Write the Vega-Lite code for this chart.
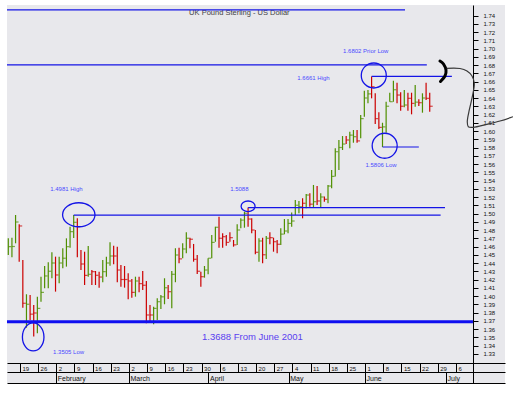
{
  "$schema": "https://vega.github.io/schema/vega-lite/v6.json",
  "width": 498,
  "height": 378,
  "autosize": {"type": "none"},
  "padding": {"left": 7, "top": 5, "right": 8, "bottom": 12},
  "background": "white",
  "config": {"view": {"fill": "#e8e8ec", "stroke": null}, "font": "Liberation Sans"},
  "datasets": {
    "bars": [
      {"t":0,"dir":"up","hi":1.4699,"lo":1.4497,"c":1.4598},
      {"t":1,"dir":"up","hi":1.4707,"lo":1.4469,"c":1.4600},
      {"t":2,"dir":"up","hi":1.4982,"lo":1.4639,"c":1.4897},
      {"t":3,"dir":"down","hi":1.4870,"lo":1.4416,"c":1.4849},
      {"t":4,"dir":"down","hi":1.4436,"lo":1.3858,"c":1.3912},
      {"t":5,"dir":"up","hi":1.4021,"lo":1.3616,"c":1.3900},
      {"t":6,"dir":"down","hi":1.4012,"lo":1.3709,"c":1.3780},
      {"t":7,"dir":"down","hi":1.3891,"lo":1.3508,"c":1.3794},
      {"t":8,"dir":"up","hi":1.3992,"lo":1.3548,"c":1.3850},
      {"t":9,"dir":"up","hi":1.4234,"lo":1.3931,"c":1.4044},
      {"t":10,"dir":"up","hi":1.4364,"lo":1.4094,"c":1.4243},
      {"t":11,"dir":"up","hi":1.4409,"lo":1.4094,"c":1.4300},
      {"t":12,"dir":"up","hi":1.4530,"lo":1.4215,"c":1.4400},
      {"t":13,"dir":"down","hi":1.4477,"lo":1.4053,"c":1.4255},
      {"t":14,"dir":"up","hi":1.4477,"lo":1.4155,"c":1.4400},
      {"t":15,"dir":"up","hi":1.4579,"lo":1.4337,"c":1.4458},
      {"t":16,"dir":"up","hi":1.4699,"lo":1.4356,"c":1.4598},
      {"t":17,"dir":"up","hi":1.4840,"lo":1.4585,"c":1.4780},
      {"t":18,"dir":"up","hi":1.4981,"lo":1.4703,"c":1.4893},
      {"t":19,"dir":"down","hi":1.4942,"lo":1.4469,"c":1.4840},
      {"t":20,"dir":"down","hi":1.4558,"lo":1.4315,"c":1.4388},
      {"t":21,"dir":"down","hi":1.4537,"lo":1.4133,"c":1.4250},
      {"t":22,"dir":"up","hi":1.4606,"lo":1.4234,"c":1.4263},
      {"t":23,"dir":"down","hi":1.4315,"lo":1.4133,"c":1.4295},
      {"t":24,"dir":"down","hi":1.4303,"lo":1.4133,"c":1.4251},
      {"t":25,"dir":"down","hi":1.4295,"lo":1.4101,"c":1.4230},
      {"t":26,"dir":"up","hi":1.4436,"lo":1.4167,"c":1.4295},
      {"t":27,"dir":"up","hi":1.4477,"lo":1.4234,"c":1.4400},
      {"t":28,"dir":"up","hi":1.4651,"lo":1.4368,"c":1.4485},
      {"t":29,"dir":"down","hi":1.4610,"lo":1.4385,"c":1.4485},
      {"t":30,"dir":"down","hi":1.4598,"lo":1.4167,"c":1.4315},
      {"t":31,"dir":"down","hi":1.4376,"lo":1.4113,"c":1.4200},
      {"t":32,"dir":"down","hi":1.4364,"lo":1.4101,"c":1.4200},
      {"t":33,"dir":"down","hi":1.4276,"lo":1.3960,"c":1.4182},
      {"t":34,"dir":"down","hi":1.4206,"lo":1.3979,"c":1.4044},
      {"t":35,"dir":"up","hi":1.4234,"lo":1.3992,"c":1.4182},
      {"t":36,"dir":"down","hi":1.4234,"lo":1.4044,"c":1.4150},
      {"t":37,"dir":"down","hi":1.4303,"lo":1.4073,"c":1.4130},
      {"t":38,"dir":"down","hi":1.4182,"lo":1.3670,"c":1.3770},
      {"t":39,"dir":"down","hi":1.3891,"lo":1.3690,"c":1.3770},
      {"t":40,"dir":"up","hi":1.3871,"lo":1.3658,"c":1.3850},
      {"t":41,"dir":"up","hi":1.3972,"lo":1.3709,"c":1.3931},
      {"t":42,"dir":"up","hi":1.4012,"lo":1.3842,"c":1.3990},
      {"t":43,"dir":"up","hi":1.4215,"lo":1.3900,"c":1.4100},
      {"t":44,"dir":"down","hi":1.4133,"lo":1.3964,"c":1.4052},
      {"t":45,"dir":"up","hi":1.4303,"lo":1.3852,"c":1.4263},
      {"t":46,"dir":"up","hi":1.4579,"lo":1.4167,"c":1.4497},
      {"t":47,"dir":"down","hi":1.4586,"lo":1.4397,"c":1.4450},
      {"t":48,"dir":"up","hi":1.4639,"lo":1.4458,"c":1.4570},
      {"t":49,"dir":"up","hi":1.4773,"lo":1.4518,"c":1.4700},
      {"t":50,"dir":"down","hi":1.4707,"lo":1.4579,"c":1.4688},
      {"t":51,"dir":"down","hi":1.4631,"lo":1.4416,"c":1.4445},
      {"t":52,"dir":"down","hi":1.4497,"lo":1.4267,"c":1.4300},
      {"t":53,"dir":"down","hi":1.4295,"lo":1.4113,"c":1.4234},
      {"t":54,"dir":"up","hi":1.4364,"lo":1.4222,"c":1.4315},
      {"t":55,"dir":"up","hi":1.4458,"lo":1.4263,"c":1.4458},
      {"t":56,"dir":"up","hi":1.4739,"lo":1.4458,"c":1.4650},
      {"t":57,"dir":"up","hi":1.4840,"lo":1.4658,"c":1.4833},
      {"t":58,"dir":"down","hi":1.4961,"lo":1.4585,"c":1.4700},
      {"t":59,"dir":"down","hi":1.4760,"lo":1.4585,"c":1.4719},
      {"t":60,"dir":"down","hi":1.4739,"lo":1.4610,"c":1.4650},
      {"t":61,"dir":"down","hi":1.4773,"lo":1.4658,"c":1.4707},
      {"t":62,"dir":"down","hi":1.4679,"lo":1.4598,"c":1.4620},
      {"t":63,"dir":"up","hi":1.4870,"lo":1.4618,"c":1.4800},
      {"t":64,"dir":"up","hi":1.4942,"lo":1.4821,"c":1.4920},
      {"t":65,"dir":"up","hi":1.5022,"lo":1.4828,"c":1.5003},
      {"t":66,"dir":"down","hi":1.5072,"lo":1.4840,"c":1.4933},
      {"t":67,"dir":"down","hi":1.4942,"lo":1.4760,"c":1.4800},
      {"t":68,"dir":"down","hi":1.4800,"lo":1.4506,"c":1.4530},
      {"t":69,"dir":"up","hi":1.4699,"lo":1.4416,"c":1.4667},
      {"t":70,"dir":"down","hi":1.4707,"lo":1.4397,"c":1.4500},
      {"t":71,"dir":"up","hi":1.4727,"lo":1.4449,"c":1.4700},
      {"t":72,"dir":"down","hi":1.4773,"lo":1.4627,"c":1.4707},
      {"t":73,"dir":"down","hi":1.4707,"lo":1.4537,"c":1.4658},
      {"t":74,"dir":"down","hi":1.4679,"lo":1.4518,"c":1.4627},
      {"t":75,"dir":"up","hi":1.4821,"lo":1.4618,"c":1.4750},
      {"t":76,"dir":"up","hi":1.4933,"lo":1.4748,"c":1.4788},
      {"t":77,"dir":"up","hi":1.4933,"lo":1.4760,"c":1.4880},
      {"t":78,"dir":"up","hi":1.5012,"lo":1.4840,"c":1.4909},
      {"t":79,"dir":"up","hi":1.5164,"lo":1.4982,"c":1.5100},
      {"t":80,"dir":"up","hi":1.5152,"lo":1.5003,"c":1.5082},
      {"t":81,"dir":"down","hi":1.5185,"lo":1.4942,"c":1.5124},
      {"t":82,"dir":"up","hi":1.5237,"lo":1.5063,"c":1.5224},
      {"t":83,"dir":"down","hi":1.5246,"lo":1.5082,"c":1.5113},
      {"t":84,"dir":"up","hi":1.5346,"lo":1.5075,"c":1.5143},
      {"t":85,"dir":"down","hi":1.5333,"lo":1.5103,"c":1.5152},
      {"t":86,"dir":"up","hi":1.5246,"lo":1.5075,"c":1.5200},
      {"t":87,"dir":"down","hi":1.5206,"lo":1.5143,"c":1.5172},
      {"t":88,"dir":"up","hi":1.5346,"lo":1.5124,"c":1.5333},
      {"t":89,"dir":"up","hi":1.5527,"lo":1.5306,"c":1.5450},
      {"t":90,"dir":"up","hi":1.5791,"lo":1.5448,"c":1.5749},
      {"t":91,"dir":"up","hi":1.5891,"lo":1.5527,"c":1.5800},
      {"t":92,"dir":"up","hi":1.5939,"lo":1.5770,"c":1.5842},
      {"t":93,"dir":"down","hi":1.5939,"lo":1.5842,"c":1.5891},
      {"t":94,"dir":"up","hi":1.5991,"lo":1.5791,"c":1.5950},
      {"t":95,"dir":"up","hi":1.6012,"lo":1.5858,"c":1.5931},
      {"t":96,"dir":"down","hi":1.6012,"lo":1.5858,"c":1.5880},
      {"t":97,"dir":"up","hi":1.6194,"lo":1.5912,"c":1.6150},
      {"t":98,"dir":"up","hi":1.6488,"lo":1.6173,"c":1.6400},
      {"t":99,"dir":"up","hi":1.6497,"lo":1.6336,"c":1.6450},
      {"t":100,"dir":"down","hi":1.6661,"lo":1.6396,"c":1.6537},
      {"t":101,"dir":"down","hi":1.6457,"lo":1.6085,"c":1.6150},
      {"t":102,"dir":"down","hi":1.6227,"lo":1.6024,"c":1.6044},
      {"t":103,"dir":"up","hi":1.6100,"lo":1.5806,"c":1.6050},
      {"t":104,"dir":"up","hi":1.6355,"lo":1.5979,"c":1.6300},
      {"t":105,"dir":"up","hi":1.6464,"lo":1.6355,"c":1.6355},
      {"t":106,"dir":"up","hi":1.6609,"lo":1.6355,"c":1.6500},
      {"t":107,"dir":"down","hi":1.6585,"lo":1.6336,"c":1.6436},
      {"t":108,"dir":"down","hi":1.6469,"lo":1.6246,"c":1.6300},
      {"t":109,"dir":"up","hi":1.6497,"lo":1.6287,"c":1.6315},
      {"t":110,"dir":"down","hi":1.6464,"lo":1.6246,"c":1.6396},
      {"t":111,"dir":"down","hi":1.6464,"lo":1.6202,"c":1.6335},
      {"t":112,"dir":"up","hi":1.6558,"lo":1.6295,"c":1.6350},
      {"t":113,"dir":"down","hi":1.6384,"lo":1.6303,"c":1.6343},
      {"t":114,"dir":"up","hi":1.6457,"lo":1.6222,"c":1.6400},
      {"t":115,"dir":"down","hi":1.6585,"lo":1.6376,"c":1.6396},
      {"t":116,"dir":"down","hi":1.6464,"lo":1.6234,"c":1.6300}
    ],
    "levels": [
      {"from": -0.36, "to": 115.2, "p": 1.6802},
      {"from": 100, "to": 122.1, "p": 1.6661},
      {"from": 103, "to": 113, "p": 1.5806},
      {"from": 66, "to": 120.2, "p": 1.5072},
      {"from": 18, "to": 119.0, "p": 1.4981}
    ],
    "notes": [
      {"n": 98.4, "p": 1.6970, "label": "1.6802 Prior Low"},
      {"n": 84.0, "p": 1.6639, "label": "1.6661 High"},
      {"n": 102.6, "p": 1.5584, "label": "1.5806 Low"},
      {"n": 16.0, "p": 1.5297, "label": "1.4981 High"},
      {"n": 63.6, "p": 1.5297, "label": "1.5088"},
      {"n": 16.6, "p": 1.3321, "label": "1.3505 Low"}
    ],
    "rings": [
      {"n": 100.6, "p": 1.6673},
      {"n": 103.6, "p": 1.5821}
    ],
    "ringWide": [{"n": 19.4, "p": 1.4985}],
    "ringSmall": [{"n": 66.0, "p": 1.5087}],
    "ringTall": [{"n": 6.85, "p": 1.3504}],
    "bracket": [
      {"k": 0, "n": 118.82, "p": 1.6849},
      {"k": 1, "n": 119.79, "p": 1.6812},
      {"k": 2, "n": 120.48, "p": 1.6739},
      {"k": 3, "n": 120.2, "p": 1.6667},
      {"k": 4, "n": 118.96, "p": 1.6600}
    ],
    "scribble": [
      {"k": 0, "n": 120.67, "p": 1.6760},
      {"k": 1, "n": 124.33, "p": 1.6758},
      {"k": 2, "n": 126.26, "p": 1.6727},
      {"k": 3, "n": 127.64, "p": 1.6667},
      {"k": 4, "n": 128.27, "p": 1.6578},
      {"k": 5, "n": 127.72, "p": 1.6416},
      {"k": 6, "n": 126.89, "p": 1.6255},
      {"k": 7, "n": 126.34, "p": 1.6113},
      {"k": 8, "n": 126.62, "p": 1.6052},
      {"k": 9, "n": 128.0, "p": 1.6045},
      {"k": 10, "n": 131.68, "p": 1.6081},
      {"k": 11, "n": 135.34, "p": 1.6121},
      {"k": 12, "n": 138.92, "p": 1.6173}
    ]
  },
  "resolve": {"scale": {"x": "independent"}},
  "layer": [
    {
      "data": {"name": "bars"},
      "mark": {"type": "rule", "strokeWidth": 1.2},
      "encoding": {
        "x": {"field": "t", "type": "quantitative",
          "scale": {"domain": [-0.358, 136.72], "nice": false, "zero": false},
          "axis": {"orient": "bottom", "offset": -20, "title": null, "grid": false, "tickCount": 100,
            "values": [3.2, 8.2, 13.2, 18.2, 23.2, 28.2, 33.2, 38.2, 43.2, 48.2, 53.2, 58.2, 63.2, 68.2, 73.2, 78.2, 83.2, 88.2, 93.2, 98.2, 103.2, 108.2, 113.2, 118.2, 123.2],
            "labelExpr": "['19','26','2','9','16','23','2','9','16','23','30','6','13','20','27','4','11','18','25','1','8','15','22','29','6'][round((datum.value-3.2)/5)]",
            "tickSize": 9, "tickColor": "#000", "tickWidth": 1, "domainColor": "#000", "domainWidth": 1,
            "labelAlign": "left", "labelBaseline": "middle", "labelPadding": -4, "labelOffset": 2,
            "labelFontSize": 6, "labelColor": "#111", "labelFlush": false, "labelOverlap": false, "labelBound": false}},
        "y": {"field": "lo", "type": "quantitative",
          "scale": {"domain": [1.29455, 1.75273], "nice": false, "zero": false},
          "axis": {"orient": "right", "offset": -32, "title": null, "grid": false, "tickCount": 100,
            "values": [1.33,1.34,1.35,1.36,1.37,1.38,1.39,1.4,1.41,1.42,1.43,1.44,1.45,1.46,1.47,1.48,1.49,1.5,1.51,1.52,1.53,1.54,1.55,1.56,1.57,1.58,1.59,1.6,1.61,1.62,1.63,1.64,1.65,1.66,1.67,1.68,1.69,1.7,1.71,1.72,1.73,1.74],
            "format": ".2f", "tickSize": 5, "tickColor": "#000", "domainColor": "#000",
            "labelPadding": 5, "labelFontSize": 6, "labelColor": "#111", "labelBaseline": "middle",
            "labelOverlap": false, "labelBound": false, "labelFlush": false}},
        "y2": {"field": "hi"},
        "color": {"field": "dir", "type": "nominal",
          "scale": {"domain": ["up", "down"], "range": ["#4f8f00", "#cc0000"]}, "legend": null}
      }
    },
    {
      "data": {"name": "bars"},
      "mark": {"type": "tick", "orient": "horizontal", "size": 3, "thickness": 1.2, "xOffset": 1.5},
      "encoding": {
        "x": {"field": "t", "type": "quantitative", "scale": {"domain": [-0.358, 136.72], "nice": false, "zero": false}, "axis": null},
        "y": {"field": "c", "type": "quantitative"},
        "color": {"field": "dir", "type": "nominal", "legend": null}
      }
    },
    {
      "data": {"name": "levels"},
      "mark": {"type": "rule", "strokeWidth": 1.2, "color": "#1414e6"},
      "encoding": {
        "x": {"field": "from", "type": "quantitative", "scale": {"domain": [-0.358, 136.72], "nice": false, "zero": false}, "axis": null},
        "x2": {"field": "to"},
        "y": {"field": "p", "type": "quantitative"}
      }
    },
    {
      "data": {"name": "rings"},
      "mark": {"type": "point", "shape": "circle", "size": 625, "filled": false, "color": "#1414e6", "strokeWidth": 1.3, "opacity": 1},
      "encoding": {
        "x": {"field": "n", "type": "quantitative", "scale": {"domain": [-0.358, 136.72], "nice": false, "zero": false}, "axis": null},
        "y": {"field": "p", "type": "quantitative"}
      }
    },
    {
      "data": {"name": "ringWide"},
      "mark": {"type": "point", "shape": "M-1,0A1,0.74,0,1,1,1,0A1,0.74,0,1,1,-1,0Z", "size": 1050, "filled": false, "color": "#1414e6", "strokeWidth": 1.3, "opacity": 1},
      "encoding": {
        "x": {"field": "n", "type": "quantitative", "scale": {"domain": [-0.358, 136.72], "nice": false, "zero": false}, "axis": null},
        "y": {"field": "p", "type": "quantitative"}
      }
    },
    {
      "data": {"name": "ringSmall"},
      "mark": {"type": "point", "shape": "M-1,0A1,0.76,0,1,1,1,0A1,0.76,0,1,1,-1,0Z", "size": 196, "filled": false, "color": "#1414e6", "strokeWidth": 1.3, "opacity": 1},
      "encoding": {
        "x": {"field": "n", "type": "quantitative", "scale": {"domain": [-0.358, 136.72], "nice": false, "zero": false}, "axis": null},
        "y": {"field": "p", "type": "quantitative"}
      }
    },
    {
      "data": {"name": "ringTall"},
      "mark": {"type": "point", "shape": "M-0.77,0A0.77,1,0,1,1,0.77,0A0.77,1,0,1,1,-0.77,0Z", "size": 784, "filled": false, "color": "#1414e6", "strokeWidth": 1.3, "opacity": 1},
      "encoding": {
        "x": {"field": "n", "type": "quantitative", "scale": {"domain": [-0.358, 136.72], "nice": false, "zero": false}, "axis": null},
        "y": {"field": "p", "type": "quantitative"}
      }
    },
    {
      "data": {"name": "notes"},
      "mark": {"type": "text", "fontSize": 6, "color": "#4a4aff", "align": "center", "baseline": "middle"},
      "encoding": {
        "x": {"field": "n", "type": "quantitative", "scale": {"domain": [-0.358, 136.72], "nice": false, "zero": false}, "axis": null},
        "y": {"field": "p", "type": "quantitative"},
        "text": {"field": "label"}
      }
    },
    {
      "data": {"values": [{"n": 67.2, "p": 1.3499, "label": "1.3688 From June 2001"}]},
      "mark": {"type": "text", "fontSize": 9.5, "color": "#5a40f0", "align": "center", "baseline": "middle"},
      "encoding": {
        "x": {"field": "n", "type": "quantitative", "scale": {"domain": [-0.358, 136.72], "nice": false, "zero": false}, "axis": null},
        "y": {"field": "p", "type": "quantitative"},
        "text": {"field": "label"}
      }
    },
    {
      "data": {"values": [{"n": 63.6, "p": 1.7434, "label": "UK Pound Sterling - US Dollar"}]},
      "mark": {"type": "text", "fontSize": 7.5, "color": "#444", "align": "center", "baseline": "middle"},
      "encoding": {
        "x": {"field": "n", "type": "quantitative", "scale": {"domain": [-0.358, 136.72], "nice": false, "zero": false}, "axis": null},
        "y": {"field": "p", "type": "quantitative"},
        "text": {"field": "label"}
      }
    },
    {
      "data": {"name": "bracket"},
      "mark": {"type": "line", "interpolate": "cardinal", "strokeWidth": 3, "color": "#000", "strokeCap": "round"},
      "encoding": {
        "x": {"field": "n", "type": "quantitative", "scale": {"domain": [-0.358, 136.72], "nice": false, "zero": false}, "axis": null},
        "y": {"field": "p", "type": "quantitative"},
        "order": {"field": "k", "type": "quantitative"}
      }
    },
    {
      "data": {"name": "scribble"},
      "mark": {"type": "line", "interpolate": "catmull-rom", "strokeWidth": 1.2, "color": "#3a3a3a"},
      "encoding": {
        "x": {"field": "n", "type": "quantitative", "scale": {"domain": [-0.358, 136.72], "nice": false, "zero": false}, "axis": null},
        "y": {"field": "p", "type": "quantitative"},
        "order": {"field": "k", "type": "quantitative"}
      }
    },
    {
      "data": {"values": [{"from": -0.36, "to": 109.2, "p": 1.7467}]},
      "mark": {"type": "rule", "strokeWidth": 1.2, "color": "#1414e6"},
      "encoding": {
        "x": {"field": "from", "type": "quantitative",
          "scale": {"domain": [-0.358, 136.72], "nice": false, "zero": false},
          "axis": {"orient": "bottom", "offset": -11, "title": null, "grid": false, "tickCount": 100,
            "values": [13.2, 33.2, 55.1, 77.2, 98.2, 120.5],
            "labelExpr": "datum.value < 20 ? 'February' : datum.value < 40 ? 'March' : datum.value < 60 ? 'April' : datum.value < 80 ? 'May' : datum.value < 100 ? 'June' : 'July'",
            "tickSize": 11, "tickColor": "#000", "domainColor": "#000",
            "labelAlign": "left", "labelBaseline": "middle", "labelPadding": -4.7, "labelOffset": 1,
            "labelFontSize": 7, "labelColor": "#111", "labelFlush": false, "labelOverlap": false, "labelBound": false}},
        "x2": {"field": "to"},
        "y": {"field": "p", "type": "quantitative"}
      }
    },
    {
      "data": {"values": [{"from": -0.36, "to": 127.9, "p": 1.3688}]},
      "mark": {"type": "rule", "strokeWidth": 3, "color": "#0f0ff0"},
      "encoding": {
        "x": {"field": "from", "type": "quantitative",
          "scale": {"domain": [-0.358, 136.72], "nice": false, "zero": false},
          "axis": {"orient": "bottom", "offset": 0, "title": null, "grid": false, "ticks": false, "labels": false, "domainColor": "#000"}},
        "x2": {"field": "to"},
        "y": {"field": "p", "type": "quantitative"}
      }
    }
  ]
}
